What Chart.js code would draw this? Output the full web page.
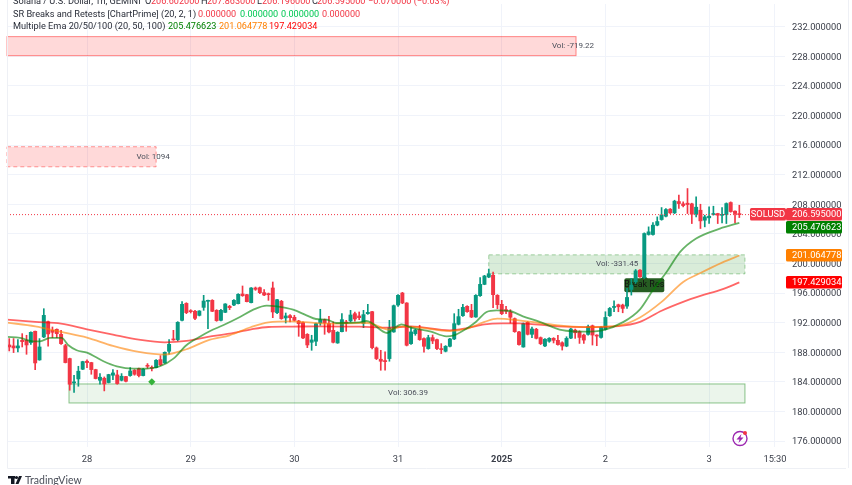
<!DOCTYPE html>
<html><head><meta charset="utf-8">
<style>html,body{margin:0;padding:0;background:#fff}#w{width:852px;height:485px;position:relative}</style>
<script src="https://cdn.jsdelivr.net/npm/chart.js@4"></script>
</head><body><div id="w"><canvas id="c"></canvas></div>
<script>
const firstHour = -18;
const opens = [
188.98,188.85,188.58,189.61,189.61,189.30,190.83,186.96,190.06,192.13,
190.96,191.10,190.42,188.89,187.14,183.85,184.39,185.70,186.78,186.60,
185.65,184.21,184.48,183.90,184.89,184.93,184.21,184.71,184.84,185.56,
185.78,184.84,186.19,185.92,185.92,187.00,186.55,188.13,189.79,189.70,
192.31,194.60,193.57,193.53,192.98,194.06,194.88,195.01,193.66,192.31,
193.39,194.20,194.38,194.56,195.87,195.78,194.70,196.68,196.72,196.05,
195.87,196.68,193.35,194.88,192.63,192.94,192.72,192.22,192.00,190.42,
189.34,189.48,191.95,192.40,191.86,190.96,189.25,190.78,192.09,192.22,
193.21,192.90,191.90,193.21,193.48,188.58,187.05,186.82,187.14,190.74,
194.38,196.00,194.65,189.16,190.51,191.05,189.84,188.49,189.97,189.70,
188.49,188.13,188.80,189.79,191.77,192.94,194.20,193.66,192.76,195.64,
197.17,198.16,198.39,195.69,194.47,193.75,193.44,192.54,190.74,188.71,
192.04,190.42,191.10,189.97,188.85,189.48,189.88,189.61,189.28,188.83,
189.91,190.99,190.77,190.32,190.41,191.58,190.32,190.00,191.08,192.93,
194.05,194.41,194.37,194.23,196.48,197.52,199.09,198.10,203.91,203.91,
205.17,205.93,206.38,207.33,206.83,208.36,208.05,208.14,208.05,206.70,
207.19,205.84,206.16,206.61,206.74,206.50,206.61,208.23,207.06,206.602];
const highs = [
189.84,189.84,189.70,190.51,190.29,190.74,190.87,189.84,193.88,192.22,
191.41,191.15,190.96,189.07,187.20,184.89,186.10,186.78,186.96,186.64,
185.70,185.11,184.66,185.02,185.65,185.56,185.11,184.75,185.92,185.65,
185.87,185.78,186.46,186.15,187.00,187.54,188.04,189.70,190.96,192.13,
194.83,194.69,193.75,193.66,193.62,195.69,195.05,195.10,193.75,193.80,
194.56,194.33,195.10,195.91,196.95,195.82,196.72,196.81,196.81,196.45,
196.00,197.49,195.15,195.01,193.30,193.08,192.99,192.31,192.09,190.51,
190.29,191.95,193.80,192.49,192.85,192.09,190.78,193.21,192.31,193.66,
193.44,193.44,193.66,194.47,193.53,188.71,188.26,188.04,192.31,194.38,
195.78,196.09,194.70,191.50,191.14,191.64,189.93,190.29,190.33,189.79,
189.16,188.89,189.88,193.21,193.80,194.47,194.29,194.47,195.78,198.07,
198.39,199.24,198.84,195.78,195.01,194.20,193.75,192.63,190.83,191.95,
192.13,191.41,191.23,190.06,189.84,189.97,189.97,190.29,189.41,190.09,
191.22,191.13,190.90,190.45,191.67,191.67,190.36,191.44,193.47,194.05,
194.95,194.50,194.50,196.62,197.97,199.18,199.18,204.13,204.94,205.53,
206.29,207.55,207.42,207.42,208.54,209.22,208.32,210.12,208.14,208.99,
208.00,206.52,207.64,207.73,206.78,207.55,208.18,208.32,207.10,207.863];
const lows = [
188.17,187.95,188.04,188.71,187.72,189.07,185.65,186.91,189.97,188.80,
189.97,189.97,189.07,186.55,182.86,182.55,183.40,185.65,185.92,185.02,
184.39,183.67,182.77,183.85,184.30,183.67,184.12,183.99,184.75,184.89,
184.66,184.80,185.83,185.47,185.87,186.19,186.51,187.72,189.61,189.52,
192.22,193.21,193.30,192.40,192.90,193.66,191.19,193.48,192.18,192.22,
193.35,193.75,194.29,194.52,195.55,194.79,194.65,196.36,195.91,195.64,
195.01,192.67,193.21,192.45,191.95,192.09,192.22,190.15,189.84,188.62,
188.26,188.89,191.64,190.42,190.60,189.25,189.20,190.74,190.83,192.09,
192.18,192.40,191.32,193.12,188.44,187.00,185.56,185.56,186.78,190.69,
194.20,194.56,188.85,189.07,190.29,189.61,187.99,188.40,189.16,188.35,
187.81,188.04,188.71,189.70,191.68,192.85,193.39,192.67,192.72,195.55,
197.12,198.07,194.02,193.89,193.08,193.21,191.95,190.69,188.94,188.67,
190.33,189.97,189.79,189.03,188.76,189.34,189.25,188.94,188.29,188.74,
189.82,189.87,189.19,189.19,190.32,188.97,188.88,189.91,190.99,192.84,
193.47,193.47,193.33,193.92,195.72,197.29,198.10,197.97,203.82,203.82,
205.08,205.84,206.29,206.74,206.74,207.42,207.64,206.74,205.39,206.29,
204.72,204.94,205.39,206.52,205.39,205.48,205.39,206.92,205.48,206.196];
const closes = [
188.71,188.58,188.85,189.43,188.98,190.69,186.55,188.71,192.98,190.47,
190.69,190.51,189.16,186.60,183.67,183.99,185.43,186.73,186.60,185.65,
184.44,184.62,183.71,184.98,185.20,183.76,184.75,184.07,185.47,185.02,
184.84,185.70,186.10,185.83,186.91,186.28,187.99,189.07,189.66,192.04,
194.47,193.35,193.48,192.58,193.57,194.92,195.01,193.53,192.27,193.66,
194.52,194.02,195.01,195.82,195.64,194.83,196.68,196.50,196.05,195.73,
195.78,193.44,195.10,192.54,192.90,192.67,192.31,191.86,189.93,188.98,
189.66,191.86,192.40,191.95,190.74,189.34,190.69,192.40,191.95,193.03,
192.49,192.67,193.08,193.39,188.62,187.14,186.78,186.73,191.28,194.29,
195.69,194.65,188.94,190.74,191.00,189.70,188.80,189.97,189.52,188.49,
188.35,188.80,189.79,191.86,192.81,194.06,193.48,192.76,195.69,197.17,
198.30,198.61,195.78,194.43,193.21,193.57,192.72,190.78,189.03,191.86,
190.42,191.14,189.88,189.16,189.75,189.88,189.61,189.03,188.83,189.87,
191.13,190.63,190.00,189.64,191.44,190.32,190.18,191.35,192.70,193.92,
194.14,194.14,193.92,195.40,197.07,199.00,198.19,204.04,204.27,205.17,
205.66,206.56,207.28,206.83,208.41,208.09,207.82,207.96,206.65,207.60,
205.75,206.29,206.38,206.70,206.52,206.60,208.09,207.01,206.74,206.595];

const ema20Hours = [-18.5,-15.5,-12.4,-10.9,-8.6,-5.9,-4.3,-2.4,0,3.8,6.9,10.7,13.8,16.9,20,23,26,28.5,31.5,35.4,38.5,41.6,43.9,47.7,50.8,53,55.5,57.7,63,64.7,69.5,71,72.8,75,79.4,83.2,84.7,87.8,90,92.5,94.8,97.8,100.9,104.8,109.4,110.9,114.9,119.5,124.2,128,131,134.2,137.3,141,146.5,151];
const ema20Values = [190.06,189.93,189.47,189.47,189.93,189.93,188.94,188.26,187.95,186.78,186.1,185.79,185.79,186.1,187.14,188.94,190.06,190.87,191.64,192.76,193.75,194.29,194.2,193.75,192.99,192.49,192.4,191.95,192.04,192.22,190.6,191.2,191.77,191.32,190.83,190.15,190.24,191.18,192.09,193.44,193.66,193.57,192.85,192.09,191.05,190.9,190.77,190.99,192.1,193.8,196.39,198.87,201.56,203.37,204.7,205.476623];
const ema50Hours = [-18.5,-12,-6,0,6,12,18,23,28,33,38,42,47,52,56,63,65,70,73,77,84,88,92,95,100,109,115,123,128,133,138,142,147,151];
const ema50Values = [192,191.5,190.74,189.97,188.85,188.04,187.68,188.4,189.61,190.29,191.41,192.04,192.18,192,191.86,191.95,191.95,191.05,191.5,191.32,190.87,191.18,192.09,192.54,192.31,191.63,191.4,191.6,192.7,194.8,197.5,198.7,200.1,201.064778];
const ema100Hours = [-18.5,-12,-6,0,6,12,18,23,28,33,38,42,47,53,63,70,75,84,88,92,96,100,109,115,123,128,133,138,142,147,151];
const ema100Values = [192.4,192.09,191.86,191.1,190.38,189.7,189.34,189.52,190.06,190.51,191.1,191.41,191.45,191.5,191.45,191.32,191.5,190.96,191.27,191.77,191.9,191.9,191.5,191.4,191.53,192.1,193.6,194.8,195.6,196.5,197.429034];

const yTickValues = [176,180,184,188,192,196,200,204,208,212,216,220,224,228,232];
const xTickHours = [0,24,48,72,96,120,144,159.25];
const xTickLabels = ['28','29','30','31','2025','2','3','15:30'];

const zoneStarts = [-18.52,-18.52,93,-4.17];
const zoneEnds = [113.2,16,152.3,152.3];
const zoneTops = [230.65,215.77,201.16,183.71];
const zoneBottoms = [228.08,213.06,198.59,181.14];
const zoneLabels = ['Vol: -719.22','Vol: 1094','Vol: -331.45','Vol: 306.39'];
const zoneLabelHours = [112.5,15.3,122.7,74.3];

const lastPrice = 206.595;
const priceTagValues = [206.595,205.476623,201.064778,197.429034];
const diamondHour = [15], diamondValue = [184];
const breakHour = 129, breakValue = 198;

const UP='#089981', DOWN='#f23645';
const idx = opens.map((_,k)=>firstHour+k);
const XMIN=-18.52, XMAX=161.57, YMIN=175.19, YMAX=235.06;
const col = opens.map((o,k)=>closes[k]>=o?UP:DOWN);
const F='Roboto, sans-serif';

function pairs(a,b){return a.map((x,k)=>({x,y:b[k]}));}

const deco = {
  id:'deco',
  beforeDatasetsDraw(ch){
    const c=ch.ctx,X=ch.scales.x,Y=ch.scales.y;
    c.save();
    const styles=[
      {f:'rgba(255,0,0,.15)',s:'rgba(255,0,0,.45)',d:[]},
      {f:'rgba(255,0,0,.15)',s:'rgba(255,0,0,.4)',d:[4,3]},
      {f:'rgba(0,128,0,.15)',s:'rgba(0,128,0,.35)',d:[4,3]},
      {f:'rgba(0,128,0,.08)',s:'rgba(0,128,0,.45)',d:[]}];
    zoneStarts.forEach((s,k)=>{
      const x0=X.getPixelForValue(s),x1=X.getPixelForValue(zoneEnds[k]);
      const y0=Y.getPixelForValue(zoneTops[k]),y1=Y.getPixelForValue(zoneBottoms[k]);
      c.fillStyle=styles[k].f;c.fillRect(x0,y0,x1-x0,y1-y0);
      c.strokeStyle=styles[k].s;c.lineWidth=1;c.setLineDash(styles[k].d);
      c.strokeRect(x0,y0,x1-x0,y1-y0);c.setLineDash([]);
      c.fillStyle='#4a4e59';c.font='8px '+F;c.textAlign='center';c.textBaseline='middle';
      c.fillText(zoneLabels[k],X.getPixelForValue(zoneLabelHours[k]),(y0+y1)/2);
    });
    // Break Res label
    const bx=X.getPixelForValue(breakHour),by=Y.getPixelForValue(breakValue);
    c.fillStyle='#265c22';
    c.beginPath();c.moveTo(bx,by-3);c.lineTo(bx+4,by+1);c.lineTo(bx-4,by+1);c.closePath();c.fill();
    c.beginPath();c.roundRect(bx-20,by,40,14,2);c.fill();
    c.fillStyle='#111';c.font='9px '+F;c.textAlign='center';c.textBaseline='middle';
    c.fillText('Break Res',bx,by+7);
    c.restore();
  },
  afterDraw(ch){
    const c=ch.ctx,Y=ch.scales.y;
    c.save();
    // frame lines
    c.strokeStyle='#eef0f5';c.lineWidth=1;
    c.beginPath();c.moveTo(7.5,0);c.lineTo(7.5,468.5);c.lineTo(846,468.5);c.moveTo(848.5,0);c.lineTo(848.5,468);c.stroke();
    // price tags
    const tagCol=[DOWN,'#008000','#ff8000','#ff0000'];
    let prev=-99;
    c.font='9.3px '+F;c.textBaseline='middle';
    priceTagValues.forEach((v,k)=>{
      let y=Y.getPixelForValue(v); y=Math.max(y,prev+13); prev=y;
      c.fillStyle=tagCol[k];c.beginPath();c.roundRect(786,y-6.5,56,12.5,1.5);c.fill();
      if(k===0){c.beginPath();c.roundRect(750,y-6.5,36,12.5,1.5);c.fill();
        c.fillStyle='#fff';c.textAlign='center';c.fillText('SOLUSD',768,y+.5);}
      c.fillStyle='#fff';c.textAlign='left';c.fillText(v.toFixed(6),792,y+.5);
    });
    // header
    const ink='#2a2e39';
    const run=(y,items)=>items.forEach(([x,t,cl])=>{c.fillStyle=cl;c.font=(cl===ink?'9.2px ':'9.1px ')+F;c.fillText(t,x,y);});
    c.textAlign='left';c.textBaseline='middle';
    const r='#f23645',g='#00c853';
    run(2,[[13,'Solana / U.S. Dollar, 1h, GEMINI',ink],[145,'O',ink],[151,'206.602000',r],[201,'H',ink],[207,'207.863000',r],[257,'L',ink],[262,'206.196000',r],[312,'C',ink],[317,'206.595000',r],[368,'\u22120.070000 (\u22120.03%)',r]]);
    run(14.5,[[13,'SR Breaks and Retests [ChartPrime] (20, 2, 1)',ink],[198,'0.000000',r],[240,'0.000000',g],[281,'0.000000',g],[322,'0.000000',r]]);
    run(27,[[13,'Multiple Ema 20/50/100 (20, 50, 100)',ink],[168,'205.476623','#008000'],[219,'201.064778','#ff8000'],[269,'197.429034','#ff0000']]);
    // footer
    c.fillStyle='#131722';
    c.fillRect(8,476,7,2.5);c.fillRect(11,476,3.5,8);
    c.beginPath();c.arc(16.5,477.5,1.6,0,7);c.fill();
    c.beginPath();c.moveTo(19,476);c.lineTo(22,476);c.lineTo(18.5,484);c.lineTo(15.5,484);c.closePath();c.fill();
    c.fillStyle='#4a4e59';c.font='10.5px Lato, sans-serif';c.textAlign='left';c.fillText('TradingView',25,480.5);
    // icon
    c.strokeStyle='#9c27b0';c.lineWidth=1.4;c.beginPath();c.arc(740,438.5,7,0,7);c.stroke();
    c.fillStyle='#9c27b0';c.beginPath();c.moveTo(741.5,434);c.lineTo(736.5,439.5);c.lineTo(739.5,439.5);c.lineTo(738.5,443);c.lineTo(743.5,437.5);c.lineTo(740.5,437.5);c.closePath();c.fill();
    c.fillStyle='#f23645';c.beginPath();c.arc(745,433,2,0,7);c.fill();
    c.restore();
  }
};

new Chart(document.getElementById('c'),{
  data:{datasets:[
    {type:'bar',label:'wicks',order:5,grouped:false,barThickness:1,
     data:idx.map((x,k)=>({x,y:[lows[k],highs[k]]})),backgroundColor:col,borderWidth:0},
    {type:'bar',label:'bodies',order:4,grouped:false,barThickness:3.3,minBarLength:1,
     data:idx.map((x,k)=>({x,y:[opens[k],closes[k]]})),backgroundColor:col,borderWidth:0},
    {type:'line',label:'last',order:3,data:[{x:XMIN,y:lastPrice},{x:XMAX,y:lastPrice}],borderColor:DOWN,borderWidth:1,borderDash:[1,2],pointRadius:0},
    {type:'line',label:'EMA100',order:2,data:pairs(ema100Hours,ema100Values),borderColor:'rgba(255,0,0,.6)',borderWidth:1.8,pointRadius:0,cubicInterpolationMode:'monotone'},
    {type:'line',label:'EMA50',order:1,data:pairs(ema50Hours,ema50Values),borderColor:'rgba(255,128,0,.6)',borderWidth:1.8,pointRadius:0,cubicInterpolationMode:'monotone'},
    {type:'line',label:'EMA20',order:0,data:pairs(ema20Hours,ema20Values),borderColor:'rgba(0,128,0,.6)',borderWidth:1.8,pointRadius:0,cubicInterpolationMode:'monotone'},
    {type:'scatter',label:'signal',order:0,data:pairs(diamondHour,diamondValue),pointStyle:'rectRot',pointRadius:3.6,backgroundColor:'#35b23a',borderWidth:0}
  ]},
  options:{
    responsive:true,maintainAspectRatio:false,animation:false,
    layout:{padding:{left:7,top:0,right:0,bottom:0}},
    plugins:{legend:{display:false},tooltip:{enabled:false}},
    scales:{
      x:{type:'linear',offset:false,min:XMIN,max:XMAX,
        afterBuildTicks(s){s.ticks=xTickHours.map(v=>({value:v}));},
        afterFit(s){s.height=38;s.paddingLeft=0;s.paddingRight=0;},
        grid:{color:'#f0f3fa',drawTicks:false,offset:false},border:{display:false},
        ticks:{padding:7,autoSkip:false,maxRotation:0,color:'#3a3e49',
          font:c=>({family:F,size:9.3,weight:c.index===4?'bold':'normal'}),
          callback:(v,i)=>xTickLabels[i]}},
      y:{type:'linear',position:'right',min:YMIN,max:YMAX,
        afterBuildTicks(s){s.ticks=yTickValues.map(v=>({value:v}));},
        afterFit(s){s.width=67;s.paddingTop=0;s.paddingBottom=0;},
        grid:{color:'#f0f3fa',drawTicks:false},border:{display:false},
        ticks:{padding:7,labelOffset:1,color:'#3a3e49',font:{family:F,size:9.3},callback:v=>v.toFixed(6)}}
    }
  },
  plugins:[deco]
});
</script></body></html>
